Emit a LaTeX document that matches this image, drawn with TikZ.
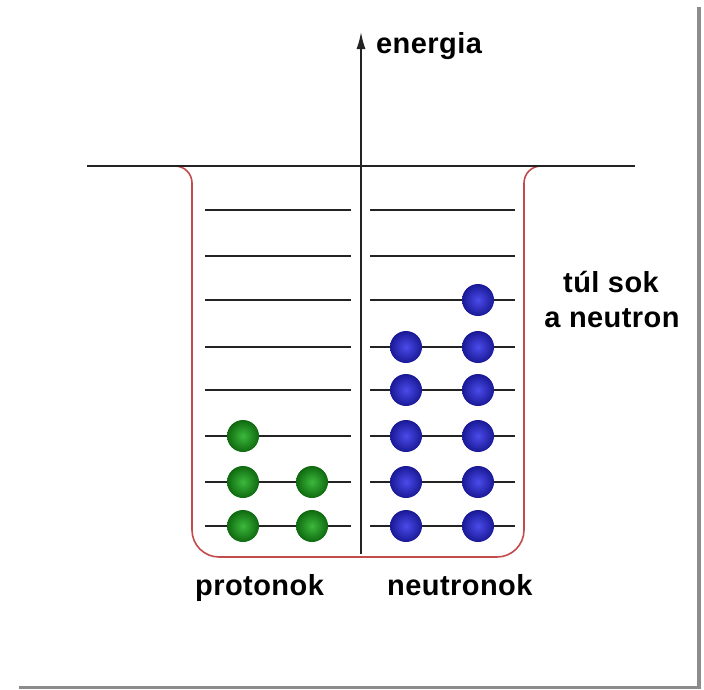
\documentclass[tikz,border=0pt]{standalone}
\usepackage{fontspec}
\setmainfont{Liberation Sans}[LetterSpace=1.5]
\usetikzlibrary{arrows.meta}
\definecolor{wellred}{RGB}{195,75,75}
\definecolor{linegray}{RGB}{35,35,35}
\definecolor{greenin}{RGB}{60,185,60}
\definecolor{greenout}{RGB}{15,105,15}
\definecolor{bluein}{RGB}{75,75,235}
\definecolor{blueout}{RGB}{25,25,150}
\definecolor{shadowgray}{RGB}{140,140,140}
\tikzset{
  level/.style={draw=linegray, line width=1.6pt},
  well/.style={draw=wellred, line width=1.6pt},
  proton/.style={circle, minimum size=32pt, inner sep=0pt, shading=radial, inner color=greenin, outer color=greenout},
  neutron/.style={circle, minimum size=32pt, inner sep=0pt, shading=radial, inner color=bluein, outer color=blueout},
  lbl/.style={font=\fontsize{29}{34}\selectfont\bfseries, inner sep=0pt},
}
\begin{document}
\begin{tikzpicture}[x=1pt, y=-1pt]
\useasboundingbox (0,0) rectangle (704,689);
\fill[white] (0,0) rectangle (704,689);
% drop shadow
\fill[shadowgray] (697,7) rectangle (701,689);
\fill[shadowgray] (19,686) rectangle (701,689);
% well
\draw[well, rounded corners=27pt] (192,300) -- (192,557) -- (524,557) -- (524,300);
\draw[well] (175,166) arc[start angle=90, end angle=0, radius=17pt] -- (192,300);
\draw[well] (541,166) arc[start angle=90, end angle=180, radius=17pt] -- (524,300);
% top line
\coordinate (tl) at (87,166);
\coordinate (tr) at (635,166);
\draw[level] (tl) -- (tr);
% axis
\coordinate (axb) at (361,554);
\coordinate (axt) at (361,32);
\draw[level, -{Latex[length=17pt,width=9pt]}] (axb) -- (axt);
% levels
\foreach \i/\y in {1/526,2/482,3/436,4/390,5/347,6/300,7/256,8/210}{
  \coordinate (pl\i) at (205,\y);
  \coordinate (pr\i) at (351,\y);
  \coordinate (nl\i) at (370,\y);
  \coordinate (nr\i) at (515,\y);
  \draw[level] (pl\i) -- (pr\i);
  \draw[level] (nl\i) -- (nr\i);
}
% protons
\node[proton] (p1a) at (243,526) {};
\node[proton] (p1b) at (312,526) {};
\node[proton] (p2a) at (243,482) {};
\node[proton] (p2b) at (312,482) {};
\node[proton] (p3a) at (243,436) {};
% neutrons
\foreach \i/\y in {1/526,2/482,3/436,4/390,5/347}{
  \node[neutron] (n\i a) at (406,\y) {};
  \node[neutron] (n\i b) at (478,\y) {};
}
\node[neutron] (n6b) at (478,300) {};
% labels
\node[lbl, anchor=base west] (en) at (376,53) {energia};
\node[lbl, anchor=base west] (pro) at (195,595) {protonok};
\node[lbl, anchor=base west] (neu) at (387,595) {neutronok};
\node[lbl, anchor=base] (tul) at (611,292) {túl sok};
\node[lbl, anchor=base] (aneu) at (612,327) {a neutron};
\end{tikzpicture}
\end{document}
